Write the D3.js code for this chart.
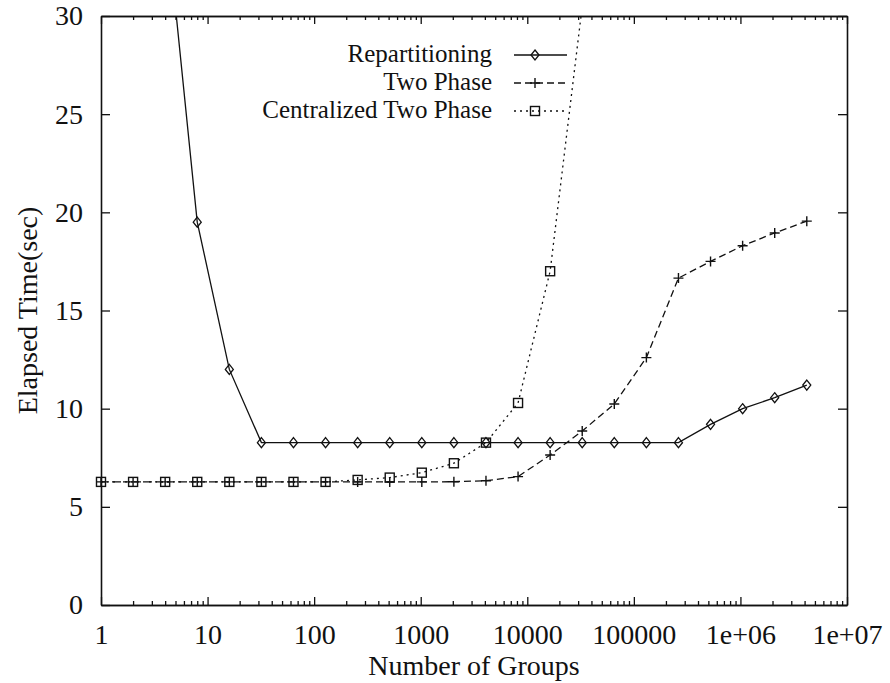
<!DOCTYPE html>
<html>
<head>
<meta charset="utf-8">
<script src="https://cdn.jsdelivr.net/npm/d3@7"></script>
<style>
  body { margin: 0; background: #fff; }
  svg { display: block; }
  text { font-family: "Liberation Serif", "Times New Roman", serif; fill: #111; }
</style>
</head>
<body>
<svg id="chart" width="890" height="683"></svg>
<script>
// number of groups (x), powers of two
var groups = [1, 2, 4, 8, 16, 32, 64, 128, 256, 512, 1024, 2048, 4096, 8192, 16384,
  32768, 65536, 131072, 262144, 524288, 1048576, 2097152, 4194304];

// elapsed time (sec), null = not plotted
var repartitioning = [null, null, 35.6, 19.5, 12.0, 8.27, 8.27, 8.27, 8.27, 8.27, 8.27, 8.27, 8.27, 8.27, 8.27,
  8.27, 8.27, 8.27, 8.27, 9.2, 10.0, 10.56, 11.2];
var twoPhase = [6.27, 6.27, 6.27, 6.27, 6.27, 6.27, 6.27, 6.27, 6.27, 6.27, 6.27, 6.28, 6.33, 6.54, 7.64,
  8.86, 10.24, 12.6, 16.65, 17.5, 18.3, 18.95, 19.55];
var centralized = [6.27, 6.27, 6.27, 6.27, 6.27, 6.27, 6.27, 6.27, 6.37, 6.49, 6.74, 7.22, 8.27, 10.29, 17.0,
  30.5, null, null, null, null, null, null, null];

var seriesNames = ["Repartitioning", "Two Phase", "Centralized Two Phase"];
var xTicks = [1, 10, 100, 1000, 10000, 100000, 1e6, 1e7];
var xTickLabels = ["1", "10", "100", "1000", "10000", "100000", "1e+06", "1e+07"];
var yTicks = [0, 5, 10, 15, 20, 25, 30];

var svg = d3.select("#chart");
var plotL = 101, plotR = 847, plotT = 16, plotB = 605;

var x = d3.scaleLog().domain([1, 1e7]).range([plotL, plotR]);
var y = d3.scaleLinear().domain([0, 30]).range([plotB, plotT]);

var minorTicks = [];
for (var d = 1; d < 1e7; d *= 10) {
  for (var m = 2; m <= 9; m++) minorTicks.push(d * m);
}

function styleAxis(g, labels) {
  g.select(".domain").attr("stroke", "#111").attr("stroke-width", 1.6);
  g.selectAll(".tick line").attr("stroke", "#111").attr("stroke-width", 1.3);
  g.selectAll("text").attr("font-family", "Liberation Serif, serif").attr("font-size", 28).attr("fill", "#111");
  if (!labels) g.selectAll("text").remove();
}

// bottom axis, ticks pointing inside
svg.append("g").attr("transform", "translate(0," + plotB + ")")
  .call(d3.axisBottom(x).tickValues(xTicks).tickSize(-8).tickSizeOuter(0).tickPadding(19)
    .tickFormat(function(d, i) { return xTickLabels[i]; }))
  .call(function(g) { styleAxis(g, true); });
svg.append("g").attr("transform", "translate(0," + plotB + ")")
  .call(d3.axisBottom(x).tickValues(minorTicks).tickSize(-4).tickSizeOuter(0).tickFormat(""))
  .call(function(g) { styleAxis(g, false); });

// top axis
svg.append("g").attr("transform", "translate(0," + plotT + ")")
  .call(d3.axisTop(x).tickValues(xTicks).tickSize(-8).tickSizeOuter(0).tickFormat(""))
  .call(function(g) { styleAxis(g, false); });
svg.append("g").attr("transform", "translate(0," + plotT + ")")
  .call(d3.axisTop(x).tickValues(minorTicks).tickSize(-4).tickSizeOuter(0).tickFormat(""))
  .call(function(g) { styleAxis(g, false); });

// left and right axes
svg.append("g").attr("transform", "translate(" + plotL + ",0)")
  .call(d3.axisLeft(y).tickValues(yTicks).tickSize(-9).tickSizeOuter(0).tickPadding(18))
  .call(function(g) { styleAxis(g, true); });
svg.append("g").attr("transform", "translate(" + plotR + ",0)")
  .call(d3.axisRight(y).tickValues(yTicks).tickSize(-9).tickSizeOuter(0).tickFormat(""))
  .call(function(g) { styleAxis(g, false); });

// axis titles
svg.append("text")
  .attr("x", (plotL + plotR) / 2).attr("y", 675)
  .attr("text-anchor", "middle").attr("font-size", 28)
  .text("Number of Groups");
svg.append("text")
  .attr("transform", "translate(37," + ((plotT + plotB) / 2) + ") rotate(-90)")
  .attr("text-anchor", "middle").attr("font-size", 28)
  .text("Elapsed Time(sec)");

// clip for the lines
svg.append("clipPath").attr("id", "plotclip")
  .append("rect").attr("x", plotL).attr("y", plotT).attr("width", plotR - plotL).attr("height", plotB - plotT);

var series = [
  { name: seriesNames[0], values: repartitioning, dash: null, marker: "diamond" },
  { name: seriesNames[1], values: twoPhase, dash: "7,4", marker: "plus" },
  { name: seriesNames[2], values: centralized, dash: "2,4", marker: "square" }
];

function drawMarker(g, type, cx, cy) {
  if (type === "diamond") {
    g.append("path").attr("d", "M" + cx + "," + (cy - 5) + "L" + (cx + 4) + "," + cy + "L" + cx + "," + (cy + 5) + "L" + (cx - 4) + "," + cy + "Z")
      .attr("fill", "none").attr("stroke", "#111").attr("stroke-width", 1.3);
  } else if (type === "plus") {
    g.append("path").attr("d", "M" + (cx - 5) + "," + cy + "H" + (cx + 5) + "M" + cx + "," + (cy - 5) + "V" + (cy + 5))
      .attr("fill", "none").attr("stroke", "#111").attr("stroke-width", 1.4);
  } else {
    g.append("rect").attr("x", cx - 4.5).attr("y", cy - 4.5).attr("width", 9).attr("height", 9)
      .attr("fill", "none").attr("stroke", "#111").attr("stroke-width", 1.4);
  }
}

var line = d3.line()
  .defined(function(d) { return d[1] !== null; })
  .x(function(d) { return x(d[0]); })
  .y(function(d) { return y(d[1]); });

series.forEach(function(s) {
  var pts = groups.map(function(g, i) { return [g, s.values[i]]; });
  svg.append("path").datum(pts)
    .attr("clip-path", "url(#plotclip)")
    .attr("d", line)
    .attr("fill", "none").attr("stroke", "#111").attr("stroke-width", 1.3)
    .attr("stroke-dasharray", s.dash);
  var mg = svg.append("g");
  pts.forEach(function(p) {
    if (p[1] !== null && p[1] <= 30) drawMarker(mg, s.marker, x(p[0]), y(p[1]));
  });
});

// legend
var legend = svg.append("g");
series.forEach(function(s, i) {
  var by = 62 + i * 28;
  legend.append("text").attr("x", 492).attr("y", by)
    .attr("text-anchor", "end").attr("font-size", 25).text(s.name);
  legend.append("line").attr("x1", 514).attr("x2", 567).attr("y1", by - 7).attr("y2", by - 7)
    .attr("stroke", "#111").attr("stroke-width", 1.3).attr("stroke-dasharray", s.dash);
  drawMarker(legend, s.marker, 535, by - 7);
});
</script>
</body>
</html>
